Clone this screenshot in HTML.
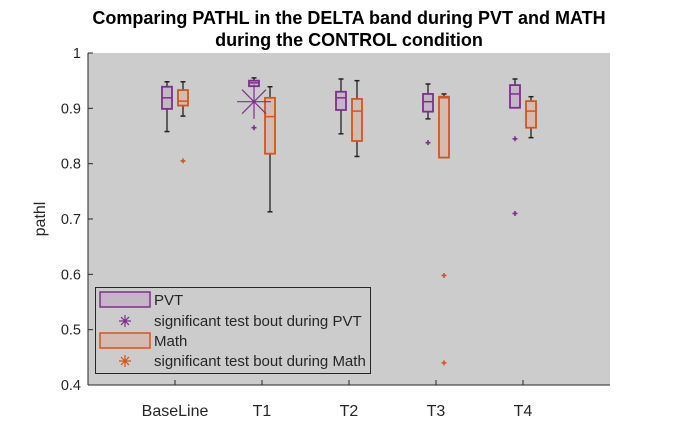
<!DOCTYPE html>
<html><head><meta charset="utf-8"><style>
body{margin:0;background:#fff;}
svg{display:block;font-family:"Liberation Sans",Arial,sans-serif;}
</style></head><body>
<svg id="chart" width="674" height="434" viewBox="0 0 674 434">
<text x="349" y="24" text-anchor="middle" font-size="18" font-weight="bold" fill="#000">Comparing PATHL in the DELTA band during PVT and MATH</text>
<text x="349" y="46" text-anchor="middle" font-size="18" font-weight="bold" fill="#000">during the CONTROL condition</text>
<rect x="88" y="53" width="522" height="332" fill="#cccccc"/>
<g id="axes"></g>
<g id="marks"></g>
<text transform="translate(45,219) rotate(-90)" text-anchor="middle" font-size="16" fill="#262626">pathl</text>
<g>
<rect x="95.5" y="287.5" width="275" height="86" fill="#cccccc" stroke="#262626" stroke-width="1"/>
<rect x="100" y="292" width="50" height="15" fill="#c4b6c6" stroke="#7e2f8e" stroke-width="1.5"/>
<text x="154" y="305" font-size="15" fill="#262626">PVT</text>
<path d="M119,321H131M125,315V327M121,317L129,325M121,325L129,317" stroke="#7e2f8e" stroke-width="1.2"/>
<text x="154" y="326" font-size="15" fill="#262626">significant test bout during PVT</text>
<rect x="100" y="333" width="50" height="15" fill="#d5bcb2" stroke="#d95319" stroke-width="1.5"/>
<text x="154" y="346" font-size="15" fill="#262626">Math</text>
<path d="M119,361H131M125,355V367M121,357L129,365M121,365L129,357" stroke="#d95319" stroke-width="1.2"/>
<text x="154" y="366" font-size="15" fill="#262626">significant test bout during Math</text>
</g>
</svg>
<script>
const categories = ["BaseLine","T1","T2","T3","T4"];
const yTicks = [0.4,0.5,0.6,0.7,0.8,0.9,1];
const yTickLabels = ["0.4","0.5","0.6","0.7","0.8","0.9","1"];
const pvtWhiskerLow = [0.858,0.940,0.854,0.881,0.901];
const pvtQ1 = [0.899,0.940,0.897,0.894,0.901];
const pvtMedian = [0.919,0.946,0.919,0.912,0.926];
const pvtQ3 = [0.939,0.950,0.930,0.926,0.942];
const pvtWhiskerHigh = [0.948,0.955,0.953,0.944,0.953];
const pvtOutliers = [[],[0.865],[],[0.838],[0.845,0.71]];
const mathWhiskerLow = [0.886,0.713,0.813,0.811,0.847];
const mathQ1 = [0.905,0.818,0.841,0.811,0.865];
const mathMedian = [0.913,0.885,0.895,0.919,0.895];
const mathQ3 = [0.933,0.919,0.917,0.921,0.913];
const mathWhiskerHigh = [0.948,0.939,0.950,0.926,0.921];
const mathOutliers = [[0.805],[],[],[0.598,0.44],[]];
const pvtSignificant = [null,0.912,null,null,null];

const NS="http://www.w3.org/2000/svg";
const X0=88,X1=610,Y0=385,Y1=53;
const xScale=i=>X0+(i+1)*(X1-X0)/6;
const yScale=v=>Y0-(v-0.4)/(0.6)*(Y0-Y1);
function mk(tag,attrs,parent){const e=document.createElementNS(NS,tag);for(const k in attrs)e.setAttribute(k,attrs[k]);parent.appendChild(e);return e;}
const ax=document.getElementById('axes'),mg=document.getElementById('marks');
let e=mk('line',{x1:X0,y1:Y1,x2:X0,y2:Y0,stroke:'#262626','stroke-width':1},ax);


e=mk('line',{x1:X0,y1:Y0,x2:X1,y2:Y0,stroke:'#262626','stroke-width':1},ax);


yTicks.forEach((v,i)=>{const y=yScale(v);
 mk('line',{x1:X0,y1:y,x2:X0+5,y2:y,stroke:'#262626'},ax);
 const t=mk('text',{x:X0-7,y:y+5,'text-anchor':'end','font-size':14.5,fill:'#262626'},ax);t.textContent=yTickLabels[i];
 
 });
categories.forEach((c,i)=>{const x=xScale(i);
 mk('line',{x1:x,y1:Y0,x2:x,y2:Y0-5,stroke:'#262626'},ax);
 const t=mk('text',{x:x,y:416,'text-anchor':'middle','font-size':16,fill:'#262626'},ax);t.textContent=c;
 
 });
function box(i,off,lo,q1,md,q3,hi,outs,col,fill,name){
 const x=xScale(i)+off,w=10;
 const g=mk('g',{},mg);
 
 
 mk('line',{x1:x,y1:yScale(hi),x2:x,y2:yScale(lo),stroke:'#222','stroke-width':1.3},g);
 mk('line',{x1:x-2.5,y1:yScale(hi),x2:x+2.5,y2:yScale(hi),stroke:'#222','stroke-width':1.5},g);
 mk('line',{x1:x-2.5,y1:yScale(lo),x2:x+2.5,y2:yScale(lo),stroke:'#222','stroke-width':1.5},g);
 mk('rect',{x:x-w/2,y:yScale(q3),width:w,height:Math.max(1,yScale(q1)-yScale(q3)),fill:fill,stroke:col,'stroke-width':1.8},g);
 mk('line',{x1:x-w/2,y1:yScale(md),x2:x+w/2,y2:yScale(md),stroke:col,'stroke-width':1.5},g);
 outs.forEach(v=>{const y=yScale(v);
  mk('path',{d:`M${x-2.5},${y}H${x+2.5}M${x},${y-2.5}V${y+2.5}`,stroke:col,'stroke-width':1.6},g);});
}
categories.forEach((c,i)=>{
 box(i,-8,pvtWhiskerLow[i],pvtQ1[i],pvtMedian[i],pvtQ3[i],pvtWhiskerHigh[i],pvtOutliers[i],'#7e2f8e','#c4b6c6','box-pvt-'+c.toLowerCase());
 box(i,8,mathWhiskerLow[i],mathQ1[i],mathMedian[i],mathQ3[i],mathWhiskerHigh[i],mathOutliers[i],'#d95319','#d5bcb2','box-math-'+c.toLowerCase());
 if(pvtSignificant[i]!=null){const x=xScale(i)-8,y=yScale(pvtSignificant[i]),r=17;
  const s=mk('path',{d:`M${x-r},${y}H${x+r}M${x},${y-r}V${y+r}M${x-12},${y-12}L${x+12},${y+12}M${x-12},${y+12}L${x+12},${y-12}`,stroke:'#7e2f8e','stroke-width':1.2,fill:'none'},mg);
  
  }
});
</script>
</body></html>
